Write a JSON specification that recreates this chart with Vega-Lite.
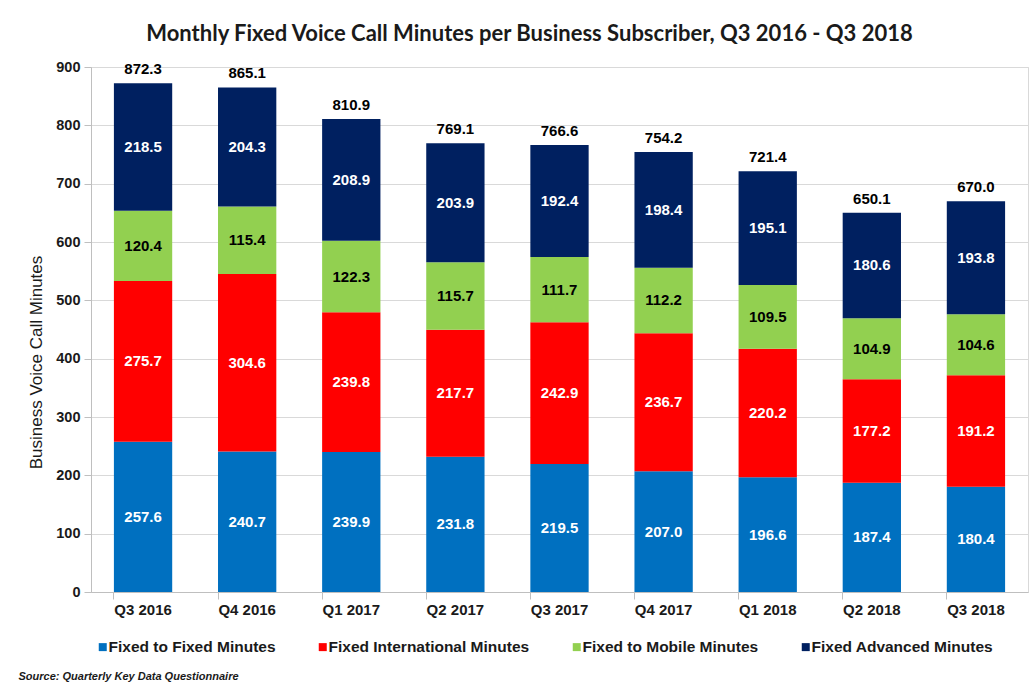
{
  "$schema": "https://vega.github.io/schema/vega-lite/v6.json",
  "width": 937,
  "height": 525,
  "autosize": "none",
  "padding": {"left": 91, "top": 67, "right": 7, "bottom": 92},
  "background": "white",
  "title": {
    "text": "Monthly Fixed Voice Call Minutes per Business Subscriber, Q3 2016 - Q3 2018",
    "anchor": "middle",
    "frame": "group",
    "dx": -30,
    "offset": 13,
    "font": "Lato",
    "fontSize": 22,
    "fontWeight": "bold",
    "color": "#1a1a1a"
  },
  "config": {
    "view": {"stroke": "#D9D9D9"},
    "font": "Liberation Sans"
  },
  "datasets": {
    "segments": [
      {"quarter": "Q3 2016", "series": "Fixed to Fixed Minutes", "order": 1, "value": 257.6},
      {"quarter": "Q3 2016", "series": "Fixed International Minutes", "order": 2, "value": 275.7},
      {"quarter": "Q3 2016", "series": "Fixed to Mobile Minutes", "order": 3, "value": 120.4},
      {"quarter": "Q3 2016", "series": "Fixed Advanced Minutes", "order": 4, "value": 218.5},
      {"quarter": "Q4 2016", "series": "Fixed to Fixed Minutes", "order": 1, "value": 240.7},
      {"quarter": "Q4 2016", "series": "Fixed International Minutes", "order": 2, "value": 304.6},
      {"quarter": "Q4 2016", "series": "Fixed to Mobile Minutes", "order": 3, "value": 115.4},
      {"quarter": "Q4 2016", "series": "Fixed Advanced Minutes", "order": 4, "value": 204.3},
      {"quarter": "Q1 2017", "series": "Fixed to Fixed Minutes", "order": 1, "value": 239.9},
      {"quarter": "Q1 2017", "series": "Fixed International Minutes", "order": 2, "value": 239.8},
      {"quarter": "Q1 2017", "series": "Fixed to Mobile Minutes", "order": 3, "value": 122.3},
      {"quarter": "Q1 2017", "series": "Fixed Advanced Minutes", "order": 4, "value": 208.9},
      {"quarter": "Q2 2017", "series": "Fixed to Fixed Minutes", "order": 1, "value": 231.8},
      {"quarter": "Q2 2017", "series": "Fixed International Minutes", "order": 2, "value": 217.7},
      {"quarter": "Q2 2017", "series": "Fixed to Mobile Minutes", "order": 3, "value": 115.7},
      {"quarter": "Q2 2017", "series": "Fixed Advanced Minutes", "order": 4, "value": 203.9},
      {"quarter": "Q3 2017", "series": "Fixed to Fixed Minutes", "order": 1, "value": 219.5},
      {"quarter": "Q3 2017", "series": "Fixed International Minutes", "order": 2, "value": 242.9},
      {"quarter": "Q3 2017", "series": "Fixed to Mobile Minutes", "order": 3, "value": 111.7},
      {"quarter": "Q3 2017", "series": "Fixed Advanced Minutes", "order": 4, "value": 192.4},
      {"quarter": "Q4 2017", "series": "Fixed to Fixed Minutes", "order": 1, "value": 207.0},
      {"quarter": "Q4 2017", "series": "Fixed International Minutes", "order": 2, "value": 236.7},
      {"quarter": "Q4 2017", "series": "Fixed to Mobile Minutes", "order": 3, "value": 112.2},
      {"quarter": "Q4 2017", "series": "Fixed Advanced Minutes", "order": 4, "value": 198.4},
      {"quarter": "Q1 2018", "series": "Fixed to Fixed Minutes", "order": 1, "value": 196.6},
      {"quarter": "Q1 2018", "series": "Fixed International Minutes", "order": 2, "value": 220.2},
      {"quarter": "Q1 2018", "series": "Fixed to Mobile Minutes", "order": 3, "value": 109.5},
      {"quarter": "Q1 2018", "series": "Fixed Advanced Minutes", "order": 4, "value": 195.1},
      {"quarter": "Q2 2018", "series": "Fixed to Fixed Minutes", "order": 1, "value": 187.4},
      {"quarter": "Q2 2018", "series": "Fixed International Minutes", "order": 2, "value": 177.2},
      {"quarter": "Q2 2018", "series": "Fixed to Mobile Minutes", "order": 3, "value": 104.9},
      {"quarter": "Q2 2018", "series": "Fixed Advanced Minutes", "order": 4, "value": 180.6},
      {"quarter": "Q3 2018", "series": "Fixed to Fixed Minutes", "order": 1, "value": 180.4},
      {"quarter": "Q3 2018", "series": "Fixed International Minutes", "order": 2, "value": 191.2},
      {"quarter": "Q3 2018", "series": "Fixed to Mobile Minutes", "order": 3, "value": 104.6},
      {"quarter": "Q3 2018", "series": "Fixed Advanced Minutes", "order": 4, "value": 193.8}
    ],
    "totals": [
      {"quarter": "Q3 2016", "total": 872.3},
      {"quarter": "Q4 2016", "total": 865.1},
      {"quarter": "Q1 2017", "total": 810.9},
      {"quarter": "Q2 2017", "total": 769.1},
      {"quarter": "Q3 2017", "total": 766.6},
      {"quarter": "Q4 2017", "total": 754.2},
      {"quarter": "Q1 2018", "total": 721.4},
      {"quarter": "Q2 2018", "total": 650.1},
      {"quarter": "Q3 2018", "total": 670.0}
    ]
  },
  "encoding": {
    "x": {
      "field": "quarter",
      "type": "ordinal",
      "sort": ["Q3 2016", "Q4 2016", "Q1 2017", "Q2 2017", "Q3 2017", "Q4 2017", "Q1 2018", "Q2 2018", "Q3 2018"],
      "scale": {"paddingInner": 0.44, "paddingOuter": 0.22},
      "axis": {
        "labelAngle": 0,
        "labelFont": "Liberation Sans",
        "labelFontSize": 15,
        "labelFontWeight": "bold",
        "labelColor": "#1a1a1a",
        "labelPadding": 3,
        "tickSize": 7,
        "bandPosition": 0,
        "tickColor": "#BFBFBF",
        "domainColor": "#BFBFBF",
        "grid": false,
        "title": "Source:  Quarterly Key Data Questionnaire",
        "titleFont": "Liberation Sans",
        "titleFontSize": 11,
        "titleFontStyle": "italic",
        "titleFontWeight": "bold",
        "titleColor": "#1a1a1a",
        "titleAnchor": "start",
        "titleAlign": "left",
        "titleBaseline": "alphabetic",
        "titleX": -73,
        "titleY": 87
      }
    }
  },
  "layer": [
    {
      "data": {"name": "segments"},
      "transform": [
        {"stack": "value", "groupby": ["quarter"], "sort": [{"field": "order", "order": "ascending"}], "as": ["y0", "y1"]}
      ],
      "mark": {"type": "bar"},
      "encoding": {
        "y": {
          "field": "y1",
          "type": "quantitative",
          "scale": {"domain": [0, 900], "nice": false},
          "axis": {
            "values": [0, 100, 200, 300, 400, 500, 600, 700, 800, 900],
            "labelFont": "Liberation Sans",
            "labelFontSize": 14.5,
            "labelFontWeight": "bold",
            "labelColor": "#1a1a1a",
            "labelPadding": 4,
            "tickSize": 7,
            "tickColor": "#BFBFBF",
            "domainColor": "#BFBFBF",
            "gridColor": "#D9D9D9",
            "title": "Business Voice Call Minutes",
            "titleFont": "Liberation Sans",
            "titleFontSize": 17,
            "titleFontWeight": "normal",
            "titleColor": "#1a1a1a",
            "titleX": -46,
            "titleY": 295,
            "titleAnchor": null
          }
        },
        "y2": {"field": "y0"},
        "color": {
          "field": "series",
          "type": "nominal",
          "scale": {
            "domain": ["Fixed to Fixed Minutes", "Fixed International Minutes", "Fixed to Mobile Minutes", "Fixed Advanced Minutes"],
            "range": ["#0070C0", "#FF0000", "#92D050", "#002060"]
          },
          "legend": {
            "orient": "none",
            "legendX": 4,
            "legendY": 572,
            "direction": "horizontal",
            "title": null,
            "symbolType": "square",
            "symbolSize": 64,
            "symbolStrokeWidth": 0,
            "labelFont": "Liberation Sans",
            "labelFontSize": 15.5,
            "labelFontWeight": "bold",
            "labelColor": "#1a1a1a",
            "labelOffset": -2,
            "labelLimit": 0,
            "columnPadding": 39
          }
        }
      }
    },
    {
      "data": {"name": "segments"},
      "transform": [
        {"stack": "value", "groupby": ["quarter"], "sort": [{"field": "order", "order": "ascending"}], "as": ["y0", "y1"]},
        {"calculate": "(datum.y0 + datum.y1) / 2", "as": "mid"}
      ],
      "mark": {"type": "text", "font": "Liberation Sans", "fontSize": 15, "fontWeight": "bold", "baseline": "middle"},
      "encoding": {
        "y": {"field": "mid", "type": "quantitative"},
        "text": {"field": "value", "type": "quantitative", "format": ".1f"},
        "color": {
          "condition": {"test": "datum.series === 'Fixed to Mobile Minutes'", "value": "#000000"},
          "value": "#FFFFFF"
        }
      }
    },
    {
      "data": {"name": "totals"},
      "mark": {"type": "text", "font": "Liberation Sans", "fontSize": 15, "fontWeight": "bold", "baseline": "alphabetic", "dy": -9, "color": "#000000"},
      "encoding": {
        "y": {"field": "total", "type": "quantitative"},
        "text": {"field": "total", "type": "quantitative", "format": ".1f"}
      }
    }
  ]
}
